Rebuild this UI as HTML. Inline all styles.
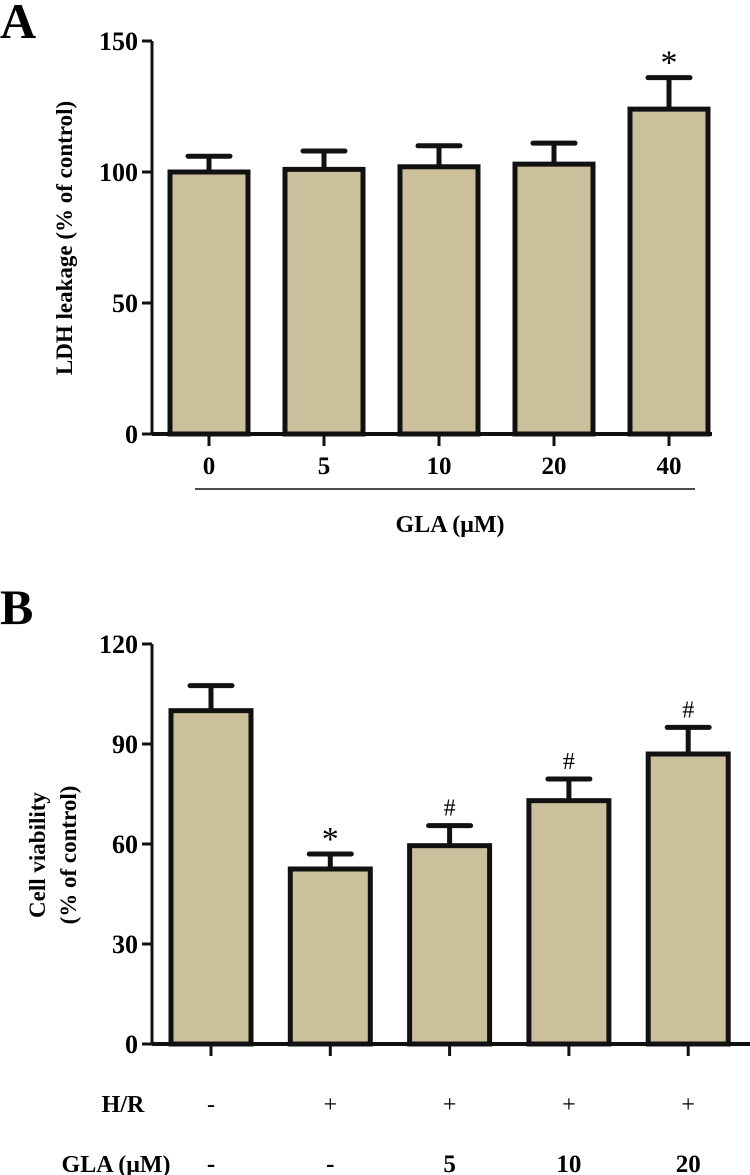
<!DOCTYPE html>
<html><head><meta charset="utf-8"><style>
html,body{margin:0;padding:0;background:#fff;}
svg{display:block;font-family:"Liberation Serif",serif;font-weight:bold;}
</style></head><body>
<svg id="c" width="750" height="1175" viewBox="0 0 750 1175"></svg>
<script>
const catsA=["0","5","10","20","40"];
const valsA=[100,101,102,103,124];
const errA=[106,108,110,111,136];
const sigA=["","","","","*"];
const ticksA=[0,50,100,150];
const hrB=["-","+","+","+","+"];
const glaB=["-","-","5","10","20"];
const valsB=[100,52.5,59.5,73,87];
const errB=[107.5,57,65.5,79.5,95];
const sigB=["","*","#","#","#"];
const ticksB=[0,30,60,90,120];

const svg=document.getElementById('c');
const NS="http://www.w3.org/2000/svg";
function el(t,a,txt){const e=document.createElementNS(NS,t);for(const k in a)e.setAttribute(k,a[k]);if(txt!==undefined)e.textContent=txt;svg.appendChild(e);return e;}

function panel(o){
  const y=v=>o.y0-(v/o.max)*(o.y0-o.y1);
  const x=i=>o.x0+i*o.step;
  let ax=el('line',{x1:o.ax,y1:o.y1,x2:o.ax,y2:o.y0,stroke:'#111','stroke-width':3});
  
  let xa=el('line',{x1:o.ax,y1:o.y0,x2:o.xEnd,y2:o.y0,stroke:'#111','stroke-width':4});
  
  o.ticks.forEach(t=>{
    let l=el('line',{x1:o.ax-10,y1:y(t),x2:o.ax,y2:y(t),stroke:'#111','stroke-width':3});
    
    let tx=el('text',{x:o.ax-14,y:y(t)+9,'text-anchor':'end','font-size':26},String(t));
    
  });
  o.vals.forEach((v,i)=>{
    const cx=x(i);
    let e=el('line',{x1:cx,y1:y(v),x2:cx,y2:y(o.err[i]),stroke:'#111','stroke-width':5});
    
    let c=el('line',{x1:cx-21,y1:y(o.err[i]),x2:cx+21,y2:y(o.err[i]),stroke:'#111','stroke-width':5,'stroke-linecap':'round'});
    
    let r=el('rect',{x:cx-o.bw/2,y:y(v),width:o.bw,height:o.y0-y(v),fill:'#cbbf9c',stroke:'#111','stroke-width':5});
    
    let tk=el('line',{x1:cx,y1:o.y0,x2:cx,y2:o.y0+12,stroke:'#111','stroke-width':3});
    
    if(o.sig[i]){
      let s=el('text',{x:cx,y:y(o.err[i])-(o.sig[i]=='*'?4:10),'text-anchor':'middle','font-size':o.sig[i]=='*'?34:24,'font-weight':'normal'},o.sig[i]);
      
    }
  });
  return x;
}
const xA=panel({p:'a',ax:152,y0:434,y1:41,max:150,x0:209,step:115,bw:78,xEnd:712,vals:valsA,err:errA,sig:sigA,ticks:ticksA});
catsA.forEach((c,i)=>{let t=el('text',{x:xA(i),y:474,'text-anchor':'middle','font-size':25},c);
});
let ul=el('line',{x1:195,y1:489,x2:695,y2:489,stroke:'#111','stroke-width':1.5});

let gt=el('text',{x:450,y:532,'text-anchor':'middle','font-size':24},'GLA (μM)');

let at=el('text',{x:72,y:238,'text-anchor':'middle','font-size':23,transform:'rotate(-90 72 238)'},'LDH leakage (% of control)');

let la=el('text',{x:0,y:38,'font-size':50},'A');


const xB=panel({p:'b',ax:152,y0:1044,y1:644,max:120,x0:211,step:119.3,bw:80,xEnd:750,vals:valsB,err:errB,sig:sigB,ticks:ticksB});
let hr=el('text',{x:123,y:1112,'text-anchor':'middle','font-size':24},'H/R');

let gl=el('text',{x:116,y:1172,'text-anchor':'middle','font-size':24},'GLA (μM)');

hrB.forEach((c,i)=>{let t=el('text',{x:xB(i),y:1112,'text-anchor':'middle','font-size':24,'font-weight':'normal'},c);
});
glaB.forEach((c,i)=>{let t=el('text',{x:xB(i),y:1172,'text-anchor':'middle','font-size':25},c);
});
let bt1=el('text',{x:45,y:855,'text-anchor':'middle','font-size':23,transform:'rotate(-90 45 855)'},'Cell viability');

let bt2=el('text',{x:76,y:855,'text-anchor':'middle','font-size':23,transform:'rotate(-90 76 855)'},'(% of control)');

let lb=el('text',{x:0,y:624,'font-size':50},'B');

</script>
</body></html>
